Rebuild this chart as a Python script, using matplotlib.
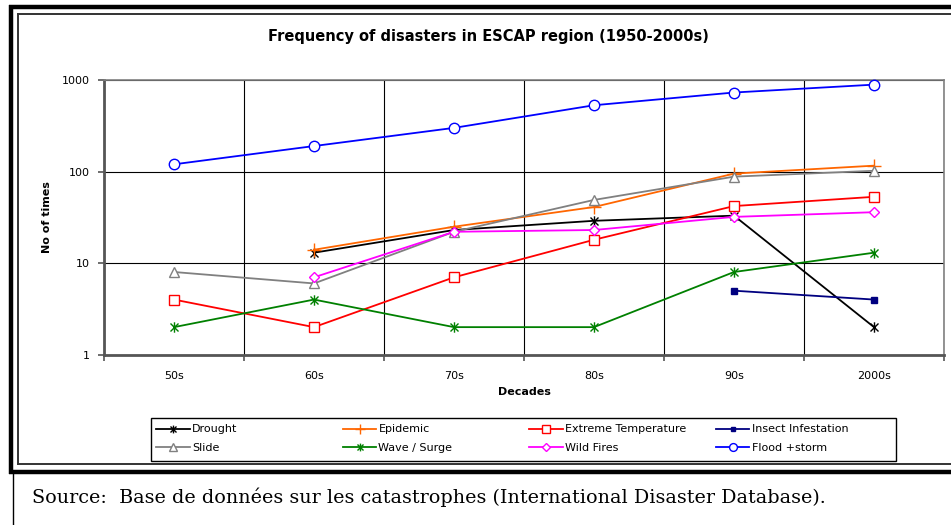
import matplotlib
matplotlib.use('Agg')
import matplotlib.pyplot as plt
from matplotlib.path import Path
from matplotlib.patches import Rectangle
from matplotlib.lines import Line2D

decades = ['50s', '60s', '70s', '80s', '90s', '2000s']

drought = [None, 13, 23, 29, 33, 2]
epidemic = [None, 14, 25, 41, 95, 116]
extreme_temp = [4, 2, 7, 18, 42, 53]
insect = [None, None, None, None, 5, 4]
slide = [8, 6, 22, 49, 88, 102]
wave_surge = [2, 4, 2, 2, 8, 13]
wild_fires = [None, 7, 22, 23, 32, 36]
flood_storm = [120, 190, 300, 530, 730, 890]

# excel style star: an X with a vertical bar
star = Path([(-1, -1), (1, 1), (-1, 1), (1, -1), (0, -1.3), (0, 1.3)],
            [Path.MOVETO, Path.LINETO, Path.MOVETO, Path.LINETO, Path.MOVETO, Path.LINETO])

series = [
    ('Drought', drought, '#000000', star, 'none', 7.5),
    ('Epidemic', epidemic, '#FF6600', '+', 'none', 9.5),
    ('Extreme Temperature', extreme_temp, '#FF0000', 's', 'white', 7),
    ('Insect Infestation', insect, '#000080', 's', '#000080', 4.5),
    ('Slide', slide, '#808080', '^', 'white', 7.5),
    ('Wave / Surge', wave_surge, '#008000', star, 'none', 7.5),
    ('Wild Fires', wild_fires, '#FF00FF', 'D', 'white', 5.5),
    ('Flood +storm', flood_storm, '#0000FF', 'o', 'white', 7.5),
]

fig = plt.figure(figsize=(9.51, 5.25), dpi=100)
ax = fig.add_axes([104 / 951, 1 - 354.7 / 525, 840 / 951, 274.7 / 525])

handles = []
for name, vals, col, mk, mfc, ms in series:
    xs = [i for i, v in enumerate(vals) if v is not None]
    ys = [v for v in vals if v is not None]
    ln, = ax.plot(xs, ys, color=col, lw=1.3, marker=mk, markersize=ms,
                  markerfacecolor=mfc, markeredgecolor=col, markeredgewidth=1.0,
                  label=name, clip_on=False, zorder=3)
    handles.append(ln)

ax.set_yscale('log')
ax.set_ylim(1, 1000)
ax.set_xlim(-0.5, len(decades) - 0.5)
ax.set_yticks([1, 10, 100, 1000])
ax.set_yticklabels(['1', '10', '100', '1000'])
ax.yaxis.set_minor_locator(matplotlib.ticker.NullLocator())

# category labels centred, ticks and vertical grid on the boundaries
ax.set_xticks([i + 0.5 for i in range(-1, len(decades))])
ax.set_xticklabels([])
for i, d in enumerate(decades):
    ax.text(i, -0.06, d, transform=ax.get_xaxis_transform(), ha='center', va='top', fontsize=8)

ax.grid(True, which='major', color='#000000', lw=0.8, zorder=0)
ax.tick_params(axis='both', direction='out', length=4, width=1.2, color='#555555', labelsize=8)
ax.tick_params(axis='y', pad=6)

for s in ['top', 'right']:
    ax.spines[s].set_color('#808080')
    ax.spines[s].set_linewidth(1.2)
for s in ['left', 'bottom']:
    ax.spines[s].set_color('#555555')
    ax.spines[s].set_linewidth(2)

ax.set_xlabel('Decades', fontsize=8, fontweight='bold', labelpad=16)
ax.set_ylabel('No of times', fontsize=8, fontweight='bold', labelpad=7)
fig.text(488 / 951, 1 - 36 / 525, 'Frequency of disasters in ESCAP region (1950-2000s)',
         ha='center', va='center', fontsize=10.5, fontweight='bold')

# legend: box plus four equal columns, filled row by row
lx0, lx1, ly0, ly1 = 151, 896, 418, 460.7
fig.patches.append(Rectangle((lx0 / 951, 1 - ly1 / 525), (lx1 - lx0) / 951, (ly1 - ly0) / 525,
                             transform=fig.transFigure, fill=False, ec='#000000', lw=1.0))
for c in range(4):
    hs = [handles[c], handles[c + 4]]
    fig.legend(handles=hs, labels=[h.get_label() for h in hs],
               loc='upper left', bbox_to_anchor=((lx0 + 1 + c * 186.5) / 951, 1 - (ly0 + 2) / 525),
               frameon=False, fontsize=8, handlelength=3.0, handletextpad=0.2,
               labelspacing=0.75, borderaxespad=0, markerscale=0.75)

# page frame around the chart
def hline(y, x0, x1, lw, col):
    fig.add_artist(Line2D([x0 / 951, x1 / 951], [1 - y / 525, 1 - y / 525], color=col, lw=lw,
                          transform=fig.transFigure, solid_capstyle='butt'))

def vline(x, y0, y1, lw, col):
    fig.add_artist(Line2D([x / 951, x / 951], [1 - y0 / 525, 1 - y1 / 525], color=col, lw=lw,
                          transform=fig.transFigure, solid_capstyle='butt'))

hline(7, 9, 960, 3.2, '#000000')
vline(11, 5, 474, 3.2, '#000000')
hline(472, 9, 960, 3.2, '#000000')
hline(14, 17, 960, 1.4, '#333333')
vline(18, 13, 465, 1.4, '#333333')
hline(464.3, 17, 960, 1.4, '#333333')
vline(13, 473, 530, 1.0, '#000000')

fig.text(32 / 951, 1 - 497 / 525,
         'Source:  Base de données sur les catastrophes (International Disaster Database).',
         ha='left', va='center', fontsize=13.8, family='DejaVu Serif')

plt.savefig('out.png', dpi=100)
